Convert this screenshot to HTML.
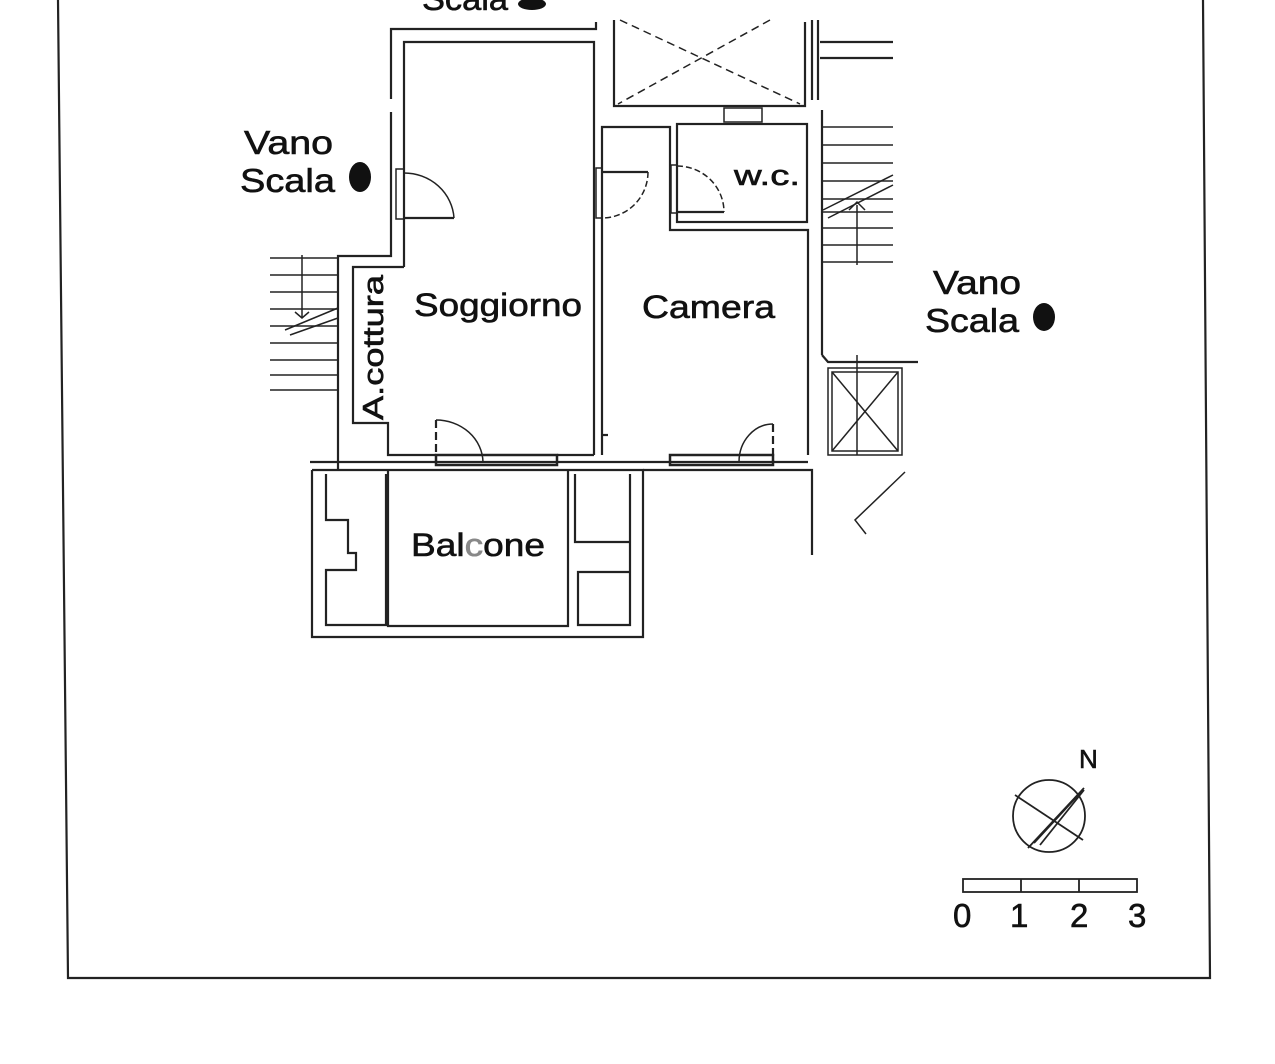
<!DOCTYPE html>
<html><head><meta charset="utf-8"><style>
html,body{margin:0;padding:0;background:#fff;width:1275px;height:1064px;overflow:hidden}
svg{display:block}
text{font-family:"Liberation Sans",sans-serif;fill:#111;stroke:#111;stroke-width:0.6}
</style></head><body>
<svg width="1275" height="1064" viewBox="0 0 1275 1064">
<g fill="none" stroke="#222" stroke-width="2.2">
<polyline points="58,0 68,978 1210,978 1203,0"/>
<polyline points="596,22 596,29 391,29 391,99"/>
<polyline points="391,112 391,256 338,256 338,470"/>
<polyline points="404,267 404,42 594,42 594,455"/>
<polyline points="404,267 353,267 353,423 388,423 388,455 436,455"/>
<line x1="557" y1="455" x2="594" y2="455"/>
<rect x="396" y="169" width="8" height="50" stroke-width="1.5"/>
<path d="M404,173 A50,48 0 0 1 454,218" stroke-width="1.5"/>
<line x1="404" y1="218" x2="454" y2="218"/>
<polyline points="602,455 602,127 670,127 670,230 808,230 808,455"/>
<rect x="677" y="124" width="130" height="98"/>
<line x1="822" y1="110" x2="822" y2="355"/>
<polyline points="822,355 828,362 918,362"/>
<line x1="603" y1="435" x2="608" y2="435"/>
<rect x="596" y="168" width="6" height="50" stroke-width="1.5"/>
<line x1="602" y1="172" x2="648" y2="172"/>
<path d="M648,172 A46,46 0 0 1 602,218" stroke-width="1.5" stroke-dasharray="6,3"/>
<rect x="671" y="165" width="6" height="48" stroke-width="1.5"/>
<line x1="677" y1="212" x2="724" y2="212"/>
<path d="M677,166 A47,46 0 0 1 724,212" stroke-width="1.5" stroke-dasharray="6,3"/>
<polyline points="614,20 614,106 805,106 805,22"/>
<g stroke-dasharray="8,5" stroke-width="1.5"><line x1="620" y1="20" x2="800" y2="104"/><line x1="770" y1="20" x2="618" y2="104"/></g>
<rect x="724" y="108" width="38" height="14" stroke-width="1.5"/>
<line x1="812" y1="20" x2="812" y2="100"/><line x1="818" y1="20" x2="818" y2="100"/>
<line x1="820" y1="42" x2="893" y2="42"/><line x1="820" y1="58" x2="893" y2="58"/>
<line x1="310" y1="462" x2="808" y2="462"/>
<rect x="436" y="455" width="121" height="10" stroke-width="2.5"/>
<rect x="670" y="455" width="103" height="10" stroke-width="2.5"/>
<path d="M436,420 A47,43 0 0 1 483,462" stroke-width="1.5"/>
<line x1="436" y1="420" x2="436" y2="455" stroke-dasharray="8,4"/>
<path d="M773,424 A34,38 0 0 0 739,462" stroke-width="1.5"/>
<line x1="773" y1="424" x2="773" y2="462" stroke-dasharray="8,4"/>
<polyline points="312,470 312,637 643,637 643,470 312,470"/>
<polyline points="326,474 326,520 348,520 348,553 356,553 356,570 326,570 326,625 386,625 386,474"/>
<polyline points="388,470 388,626 568,626 568,470"/>
<polyline points="575,474 575,542 630,542 630,572 578,572 578,625 630,625 630,474"/>
<polyline points="643,470 812,470 812,555"/>
<g stroke-width="1.5">
<line x1="270" y1="258" x2="338" y2="258"/><line x1="270" y1="275" x2="338" y2="275"/><line x1="270" y1="292" x2="338" y2="292"/><line x1="270" y1="309" x2="338" y2="309"/><line x1="270" y1="326" x2="338" y2="326"/><line x1="270" y1="343" x2="338" y2="343"/><line x1="270" y1="360" x2="338" y2="360"/><line x1="270" y1="375" x2="338" y2="375"/><line x1="270" y1="390" x2="338" y2="390"/>
<line x1="302" y1="255" x2="302" y2="318"/><polyline points="295,312 302,318 309,312"/>
<line x1="285" y1="330" x2="338" y2="308"/><line x1="290" y1="335" x2="338" y2="318"/>
<line x1="823" y1="127" x2="893" y2="127"/><line x1="823" y1="145" x2="893" y2="145"/><line x1="823" y1="163" x2="893" y2="163"/><line x1="823" y1="181" x2="893" y2="181"/><line x1="823" y1="199" x2="893" y2="199"/><line x1="823" y1="212" x2="893" y2="212"/><line x1="823" y1="228" x2="893" y2="228"/><line x1="823" y1="245" x2="893" y2="245"/><line x1="823" y1="262" x2="893" y2="262"/>
<line x1="857" y1="205" x2="857" y2="265"/><polyline points="849,210 857,202 865,210"/>
<line x1="823" y1="210" x2="893" y2="175"/><line x1="828" y1="218" x2="893" y2="185"/>
<rect x="828" y="368" width="74" height="87"/><rect x="832" y="372" width="66" height="79"/>
<line x1="832" y1="372" x2="898" y2="451"/><line x1="898" y1="372" x2="832" y2="451"/>
<line x1="857" y1="355" x2="857" y2="455"/>
<polyline points="905,472 855,520 866,534"/>
</g>
</g>
<ellipse cx="360" cy="177" rx="11" ry="15" fill="#111"/>
<ellipse cx="1044" cy="317" rx="11" ry="14" fill="#111"/>
<ellipse cx="532" cy="4" rx="14" ry="6" fill="#111"/>
<text x="422" y="10" font-size="32" textLength="86" lengthAdjust="spacingAndGlyphs">Scala</text>
<text x="244" y="154" font-size="33" textLength="89" lengthAdjust="spacingAndGlyphs">Vano</text>
<text x="240" y="192" font-size="33" textLength="95" lengthAdjust="spacingAndGlyphs">Scala</text>
<text x="933" y="294" font-size="33" textLength="88" lengthAdjust="spacingAndGlyphs">Vano</text>
<text x="925" y="332" font-size="33" textLength="94" lengthAdjust="spacingAndGlyphs">Scala</text>
<text x="414" y="316" font-size="32" textLength="168" lengthAdjust="spacingAndGlyphs">Soggiorno</text>
<text x="642" y="318" font-size="32" textLength="133" lengthAdjust="spacingAndGlyphs">Camera</text>
<text x="734" y="185" font-size="29" textLength="66" lengthAdjust="spacingAndGlyphs">w.c.</text>
<text transform="translate(383,420) rotate(-90)" font-size="29" textLength="145" lengthAdjust="spacingAndGlyphs">A.cottura</text>
<text x="411" y="556" font-size="32" textLength="134" lengthAdjust="spacingAndGlyphs">Bal<tspan fill="#888" stroke="#888">c</tspan>one</text>
<g fill="none" stroke="#222" stroke-width="1.8">
<circle cx="1049" cy="816" r="36"/>
<line x1="1015" y1="795" x2="1083" y2="840"/>
<line x1="1028" y1="848" x2="1084" y2="788"/>
<line x1="1034" y1="843" x2="1082" y2="791"/>
<line x1="1040" y1="845" x2="1084" y2="790"/>
<rect x="963" y="879" width="174" height="13"/>
<line x1="1021" y1="879" x2="1021" y2="892"/><line x1="1079" y1="879" x2="1079" y2="892"/>
</g>
<text x="1079" y="768" font-size="26">N</text>
<text x="953" y="927" font-size="33">0</text>
<text x="1010" y="927" font-size="33">1</text>
<text x="1070" y="927" font-size="33">2</text>
<text x="1128" y="927" font-size="33">3</text>
</svg>
</body></html>
